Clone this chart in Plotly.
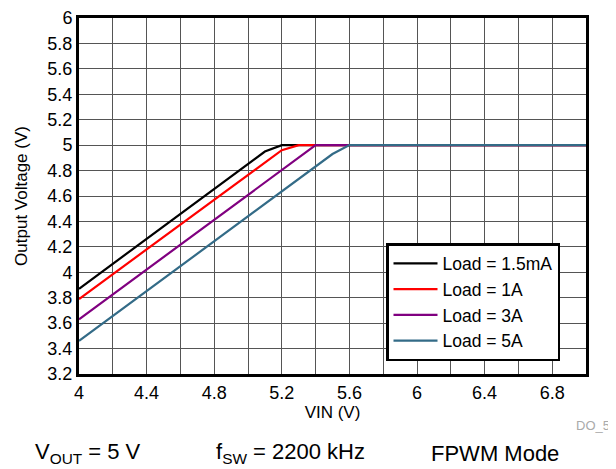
import plotly.graph_objects as go

series_names = ["Load = 1.5mA", "Load = 1A", "Load = 3A", "Load = 5A"]
series_colors = ["#000000", "#ff0000", "#800080", "#336b87"]
vin_15ma = [4.0, 5.1, 5.2, 7.0]
vout_15ma = [3.87, 4.95, 5.0, 5.0]
vin_1a = [4.0, 5.2, 5.3, 7.0]
vout_1a = [3.79, 4.96, 5.0, 5.0]
vin_3a = [4.0, 5.4, 7.0]
vout_3a = [3.63, 5.0, 5.0]
vin_5a = [4.0, 5.5, 5.6, 7.0]
vout_5a = [3.46, 4.93, 5.0, 5.0]

xs = [vin_15ma, vin_1a, vin_3a, vin_5a]
ys = [vout_15ma, vout_1a, vout_3a, vout_5a]

font = "Liberation Sans, Arial, sans-serif"
OFF = 8  # page body margin
FW, FH = 616 - OFF, 469 - OFF
L, R, T, B = 79 - OFF, 586 - OFF, 18 - OFF, 374 - OFF
W, H = R - L, B - T

def px_x(p):
    return (p - OFF - L) / W

def px_y(p):
    return (B - (p - OFF)) / H

fig = go.Figure()
for name, c, x, y in zip(series_names, series_colors, xs, ys):
    fig.add_trace(go.Scatter(x=x, y=y, mode="lines", name=name,
                             line=dict(color=c, width=2.2)))

fig.update_layout(
    width=FW, height=FH,
    margin=dict(l=L, r=FW - R, t=T, b=FH - B),
    paper_bgcolor="white", plot_bgcolor="white",
    font=dict(family=font, size=18, color="black"),
    showlegend=True,
    legend=dict(x=px_x(386), y=px_y(243), xanchor="left", yanchor="top",
                bgcolor="white", bordercolor="black", borderwidth=2.5,
                font=dict(size=17.5), tracegroupgap=0, itemwidth=44),
    xaxis=dict(range=[4, 7], dtick=0.4, tick0=4, showgrid=True,
               gridcolor="#555555", gridwidth=1,
               minor=dict(dtick=0.2, tick0=4, showgrid=True, gridcolor="#555555", gridwidth=1),
               showline=True, linecolor="black", linewidth=3, mirror=True,
               ticks="", zeroline=False, automargin=False, ticklabeloverflow="allow",
               title=dict(text="VIN (V)", font=dict(size=17), standoff=2)),
    yaxis=dict(range=[3.2, 6], dtick=0.2, tick0=3.2, showgrid=True,
               gridcolor="#555555", gridwidth=1,
               showline=True, linecolor="black", linewidth=3, mirror=True,
               ticks="", zeroline=False, tickformat="~g", automargin=False,
               ticklabeloverflow="allow",
               title=dict(text="Output Voltage (V)", font=dict(size=17), standoff=16)),
)

fig.add_annotation(text="DO_5", x=px_x(593), y=px_y(425), xref="paper", yref="paper",
                   xanchor="center", yanchor="middle",
                   showarrow=False, font=dict(size=13, color="#aaaaaa"))
annos = [("V<sub>OUT</sub> = 5 V", 88), ("f<sub>SW</sub> = 2200 kHz", 290), ("FPWM Mode", 495)]
for t, px in annos:
    fig.add_annotation(text=t, x=px_x(px), y=px_y(453), xref="paper", yref="paper",
                       xanchor="center", yanchor="middle",
                       showarrow=False, font=dict(size=22))

fig.write_html("out.html")
